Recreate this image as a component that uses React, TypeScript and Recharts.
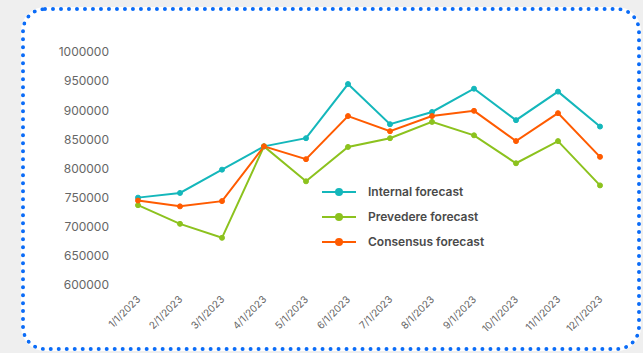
import React from 'react';
import { LineChart, Line, XAxis, YAxis, Legend } from 'recharts';

// Data
const months = ['1/1/2023', '2/1/2023', '3/1/2023', '4/1/2023', '5/1/2023', '6/1/2023', '7/1/2023', '8/1/2023', '9/1/2023', '10/1/2023', '11/1/2023', '12/1/2023'];
const internalForecast = [750000, 758000, 798000, 838000, 852000, 945000, 876000, 897000, 937000, 883000, 932000, 872000];
const prevedereForecast = [737000, 705000, 681000, 838000, 778000, 837000, 852000, 880000, 857000, 809000, 847000, 771000];
const consensusForecast = [745000, 735000, 744000, 838000, 816000, 890000, 864000, 890000, 899000, 847000, 895000, 820000];
const yTicks = [600000, 650000, 700000, 750000, 800000, 850000, 900000, 950000, 1000000];

const SERIES = [
  { key: 'internal', name: 'Internal forecast', color: '#14b7bb' },
  { key: 'prevedere', name: 'Prevedere forecast', color: '#8cc21e' },
  { key: 'consensus', name: 'Consensus forecast', color: '#ff5b00' },
];

const data = months.map((m, i) => ({
  month: m,
  internal: internalForecast[i],
  prevedere: prevedereForecast[i],
  consensus: consensusForecast[i],
}));

const FONT = 'Inter, "Noto Sans", sans-serif';

const LegendContent = () => (
  <div style={{ fontFamily: FONT }}>
    {SERIES.map((s) => (
      <div key={s.key} style={{ display: 'flex', alignItems: 'center', height: 25 }}>
        <svg width={36} height={10} style={{ marginRight: 10 }}>
          <line x1={0} y1={5} x2={34} y2={5} stroke={s.color} strokeWidth={2} />
          <circle cx={17} cy={5} r={4} fill={s.color} />
        </svg>
        <span style={{ fontSize: 12, fontWeight: 600, color: '#4a4a4a' }}>{s.name}</span>
      </div>
    ))}
  </div>
);

// rotated date labels, end of text sits just right of the tick
const XTick = ({ x, y, payload }: any) => (
  <text
    x={x + 3}
    y={y + 7}
    textAnchor="end"
    fontSize={10}
    fill="#666"
    fontFamily={FONT}
    transform={`rotate(-45, ${x + 3}, ${y + 7})`}
  >
    {payload.value}
  </text>
);

export default function App() {
  return (
    <div style={{ position: 'absolute', left: 0, top: 0, width: 643, height: 353, background: '#efefef', overflow: 'hidden' }}>
      <div
        style={{
          position: 'absolute',
          left: 21,
          top: 7,
          width: 612,
          height: 336,
          background: '#fff',
          border: '4px dotted #0b6cf7',
          borderRadius: 24,
        }}
      />
      <div style={{ position: 'absolute', left: 0, top: 0 }}>
        <LineChart width={643} height={353} data={data} margin={{ top: 52, right: 30, bottom: 8, left: 0 }}>
          <XAxis
            dataKey="month"
            axisLine={false}
            tickLine={false}
            interval={0}
            height={60}
            padding={{ left: 21, right: 13 }}
            tick={<XTick />}
          />
          <YAxis
            width={117}
            domain={[600000, 1000000]}
            ticks={yTicks}
            axisLine={false}
            tickLine={false}
            tick={{ fontSize: 12, fill: '#666', fontFamily: FONT }}
          />
          <Legend
            layout="vertical"
            align="center"
            verticalAlign="middle"
            wrapperStyle={{ left: 322, top: 179, width: 200 }}
            content={<LegendContent />}
          />
          {SERIES.map((s) => (
            <Line
              key={s.key}
              dataKey={s.key}
              name={s.name}
              type="linear"
              stroke={s.color}
              strokeWidth={2}
              dot={{ r: 2.5, fill: s.color, stroke: s.color, strokeWidth: 1 }}
              isAnimationActive={false}
            />
          ))}
        </LineChart>
      </div>
    </div>
  );
}
